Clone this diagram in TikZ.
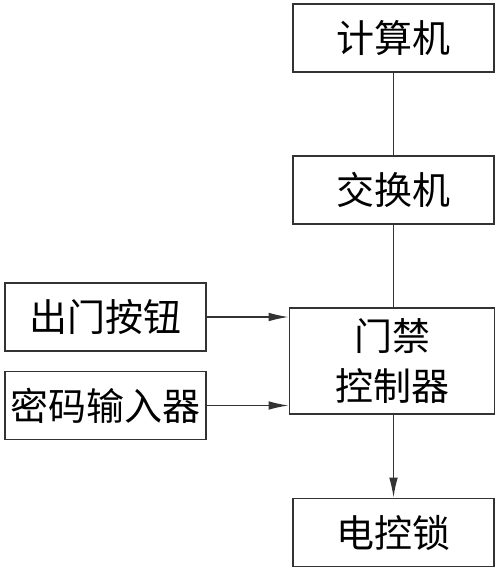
\documentclass[tikz,border=0pt]{standalone}
\usepackage{fontspec}
\newfontfamily\cjk{Noto Sans CJK SC}
\usetikzlibrary{arrows.meta}
\tikzset{block/.style = {draw=black!80, fill=white, line width=1.4pt, rectangle, minimum height=51pt, minimum width=150.75pt, inner sep=0pt, font=\cjk\fontsize{28.5}{38}\selectfont},
         wide/.style = {block, minimum height=79.5pt, minimum width=153.75pt, align=center},
         link/.style = {draw=black!80, line width=1pt, -{Latex[length=15pt,width=6.5pt]}}}

\begin{document}
\begin{tikzpicture}[x=0.75pt,y=-0.75pt]
    \useasboundingbox (0,0) rectangle (500,571);
    \node[block](pc)at(393.5,38){计算机};
    \node[block](sw)at(393.5,190){交换机};
    \node[wide](ctrl)at(392,361){门禁\\控制器};
    \node[block](lock)at(393.5,532.5){电控锁};
    \node[block](btn)at(105.5,317){出门按钮};
    \node[block](pwd)at(105.5,405.5){密码输入器};
    \draw[link,-](pc)--(sw);
    \draw[link,-](sw)--(ctrl.north -| sw);
    \draw[link](btn.east)--(btn.east -| ctrl.west);
    \draw[link](pwd.east)--(pwd.east -| ctrl.west);
    \draw[link](ctrl.south -| lock)--(lock.north);
\end{tikzpicture}
\end{document}
